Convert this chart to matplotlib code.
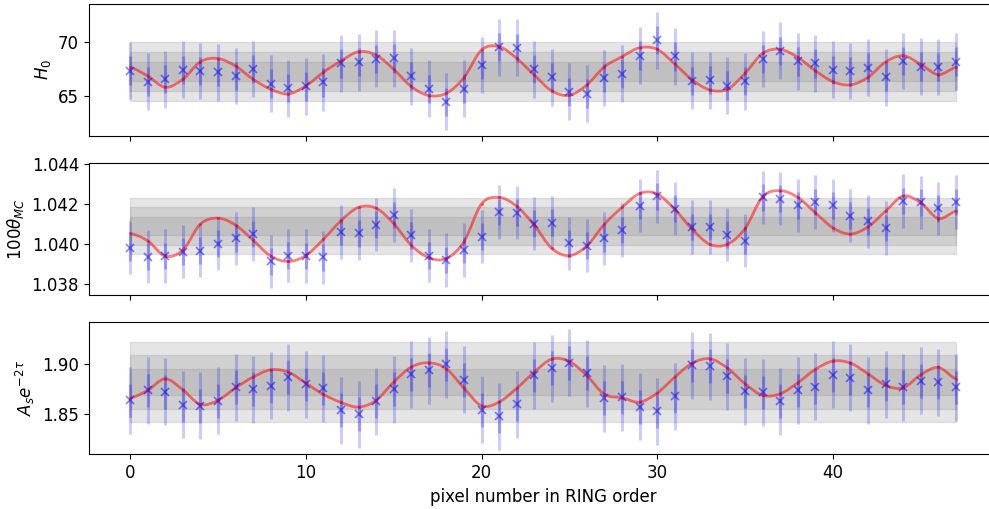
import numpy as np
import matplotlib
matplotlib.use("Agg")
import matplotlib.pyplot as plt
from matplotlib.path import Path
from matplotlib.patches import PathPatch

plt.rcParams["font.size"] = 12

pixels = np.arange(48)

# ---- H0 ----
h0_points = [67.37, 66.35, 66.57, 67.44, 67.34, 67.22, 66.88, 67.53, 66.17, 65.74,
             65.90, 66.29, 68.05, 68.15, 68.48, 68.52, 66.85, 65.68, 64.47, 65.71,
             67.90, 69.56, 69.50, 67.50, 66.76, 65.40, 65.24, 66.69, 67.10, 68.76,
             70.21, 68.70, 66.42, 66.48, 65.98, 66.39, 68.45, 69.22, 68.24, 68.05,
             67.44, 67.34, 67.65, 66.76, 68.27, 67.74, 67.71, 68.21]
h0_model = [67.68, 66.88, 65.83, 66.57, 68.20, 68.50, 67.80, 66.57, 65.65, 65.21,
            65.95, 67.22, 68.27, 69.13, 68.82, 67.50, 65.90, 65.06, 65.27, 66.72,
            69.29, 69.60, 68.52, 66.97, 65.49, 65.09, 66.05, 67.74, 68.67, 69.50,
            69.35, 67.99, 66.51, 65.58, 65.65, 67.13, 68.98, 69.35, 68.61, 67.37,
            66.35, 66.05, 66.76, 68.18, 68.76, 67.96, 67.00, 67.68]
h0_err = 1.32
h0_mean, h0_sigma = 67.30, 0.915

# ---- 100 theta_MC ----
th_points = [1.03980, 1.03935, 1.03938, 1.03960, 1.03965, 1.04000, 1.04028, 1.04049,
             1.03911, 1.03941, 1.03938, 1.03931, 1.04059, 1.04052, 1.04096, 1.04144,
             1.04042, 1.03941, 1.03918, 1.03968, 1.04035, 1.04159, 1.04156, 1.04101,
             1.04106, 1.04002, 1.03990, 1.04027, 1.04069, 1.04191, 1.04238, 1.04176,
             1.04084, 1.04084, 1.04045, 1.04015, 1.04233, 1.04226, 1.04194, 1.04210,
             1.04193, 1.04141, 1.04112, 1.04080, 1.04215, 1.04208, 1.04178, 1.04210]
th_model = [1.04052, 1.04015, 1.03938, 1.03968, 1.04099, 1.04129, 1.04094, 1.04018,
            1.03938, 1.03911, 1.03941, 1.04022, 1.04116, 1.04183, 1.04179, 1.04102,
            1.03993, 1.03930, 1.03926, 1.04010, 1.04200, 1.04233, 1.04189, 1.04094,
            1.03977, 1.03940, 1.03990, 1.04099, 1.04183, 1.04253, 1.04250, 1.04173,
            1.04072, 1.03997, 1.03998, 1.04077, 1.04236, 1.04267, 1.04233, 1.04156,
            1.04080, 1.04049, 1.04085, 1.04164, 1.04240, 1.04206, 1.04127, 1.04164]
th_err = 0.00067
th_mean, th_sigma = 1.04090, 0.00047

# ---- As e^{-2tau} ----
as_points = [1.8637, 1.8737, 1.8723, 1.8593, 1.8583, 1.8633, 1.8770, 1.8750, 1.8783,
             1.8870, 1.8797, 1.8757, 1.8540, 1.8500, 1.8630, 1.8750, 1.8897, 1.8940,
             1.8997, 1.8843, 1.8543, 1.8477, 1.8597, 1.8887, 1.8960, 1.9013, 1.8910,
             1.8660, 1.8667, 1.8573, 1.8527, 1.8680, 1.8987, 1.8980, 1.8880, 1.8727,
             1.8717, 1.8630, 1.8737, 1.8773, 1.8893, 1.8863, 1.8737, 1.8800, 1.8770,
             1.8833, 1.8820, 1.8767]
as_model = [1.8660, 1.8737, 1.8853, 1.8743, 1.8597, 1.8637, 1.8763, 1.8870, 1.8943,
            1.8920, 1.8810, 1.8697, 1.8617, 1.8570, 1.8637, 1.8820, 1.8970, 1.9013,
            1.8953, 1.8760, 1.8583, 1.8620, 1.8757, 1.8920, 1.9050, 1.9027, 1.8883,
            1.8697, 1.8663, 1.8620, 1.8710, 1.8870, 1.9010, 1.9053, 1.8960, 1.8803,
            1.8687, 1.8703, 1.8813, 1.8947, 1.9030, 1.9010, 1.8903, 1.8787, 1.8763,
            1.8893, 1.8967, 1.8853]
as_err = 0.0167
as_mean, as_sigma = 1.88215, 0.0134

ylabels = [r"$H_0$", r"$100\theta_{MC}$", r"$A_se^{-2\tau}$"]
ylims = [(61.32, 73.61), (1.03742, 1.04407), (1.8097, 1.9420)]
yticks = [[65, 70], [1.038, 1.040, 1.042, 1.044], [1.85, 1.90]]
yfmt = ["{:.0f}", "{:.3f}", "{:.2f}"]
xticks = [0, 10, 20, 30, 40]
xlabel = "pixel number in RING order"


def smooth_path(x, y):
    x = np.asarray(x, float)
    y = np.asarray(y, float)
    n = len(x)
    verts = [(x[0], y[0])]
    codes = [Path.MOVETO]
    for i in range(n - 1):
        ym1 = y[i - 1] if i > 0 else y[i]
        yp2 = y[i + 2] if i + 2 < n else y[i + 1]
        dx = x[i + 1] - x[i]
        c1 = (x[i] + dx / 3, y[i] + (y[i + 1] - ym1) / 6)
        c2 = (x[i + 1] - dx / 3, y[i + 1] - (yp2 - y[i]) / 6)
        verts += [c1, c2, (x[i + 1], y[i + 1])]
        codes += [Path.CURVE4] * 3
    return Path(verts, codes)


fig = plt.figure(figsize=(9.89, 5.09), dpi=100)
W, H = 989.0, 509.0
left = 88.8 / W
width = 908.4 / W
tops = [3.5, 162.8, 322.1]
hpx = 132.3

panels = [
    (h0_points, h0_model, h0_err, h0_mean, h0_sigma),
    (th_points, th_model, th_err, th_mean, th_sigma),
    (as_points, as_model, as_err, as_mean, as_sigma),
]

axes = []
for k, (pts, mdl, err, mean, sig) in enumerate(panels):
    bottom = 1 - (tops[k] + hpx) / H
    ax = fig.add_axes([left, bottom, width, hpx / H], sharex=axes[0] if axes else None)
    axes.append(ax)
    for m in (1, 2, 3):
        ax.fill_between([pixels[0], pixels[-1]], mean - m * sig, mean + m * sig,
                        color="grey", alpha=0.2)
    pts = np.array(pts)
    ax.errorbar(pixels, pts, yerr=2 * err, fmt="none", ecolor="b", alpha=0.2, lw=2.2)
    ax.errorbar(pixels, pts, yerr=err, fmt="none", ecolor="b", alpha=0.25, lw=2.2)
    ax.plot(pixels, pts, "x", color="b", alpha=0.5, ms=5.5, mew=1.2)
    ax.add_patch(PathPatch(smooth_path(pixels, mdl), fill=False, edgecolor="r",
                           alpha=0.5, lw=2))
    ax.plot(pixels, mdl, ".", color="r", alpha=0.4, ms=2.5)
    ax.set_ylim(*ylims[k])
    ax.set_yticks(yticks[k])
    ax.set_yticklabels([yfmt[k].format(v) for v in yticks[k]])
    ax.set_ylabel(ylabels[k])
    ax.set_xlim(-2.35, 49.35)
    ax.set_xticks(xticks)
    if k < 2:
        ax.tick_params(labelbottom=False)

axes[-1].set_xlabel(xlabel)
fig.savefig("out.png", dpi=100)
